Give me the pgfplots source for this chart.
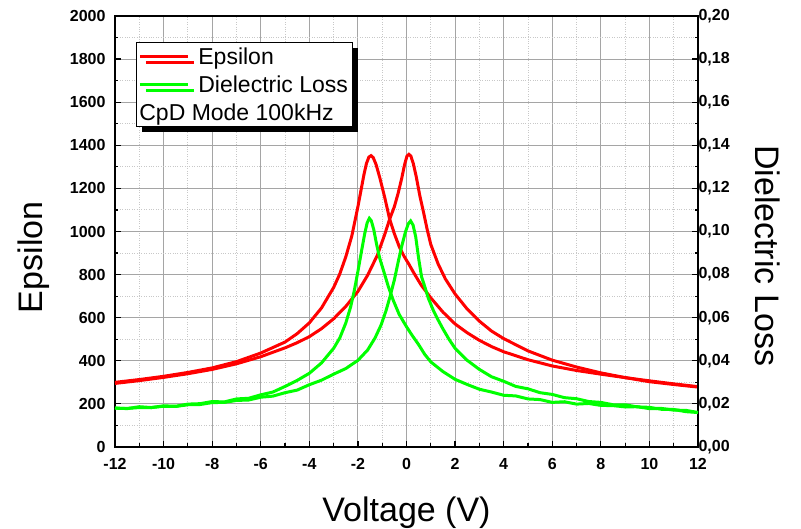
\documentclass[border=0pt]{standalone}
\usepackage{fontspec}
\setmainfont{Liberation Sans}
\usepackage{pgfplots}
\pgfplotsset{compat=1.18}
\usetikzlibrary{shadows}
\definecolor{gridmaj}{RGB}{165,165,165}
\definecolor{gridmin}{RGB}{200,200,200}
\definecolor{cred}{RGB}{255,0,0}
\definecolor{cgreen}{RGB}{0,255,0}

\begin{document}
\begin{tikzpicture}
\path[use as bounding box] (-115pt,-82pt) rectangle (686pt,447pt);
\begin{axis}[
 at={(0pt,0pt)}, anchor=south west,
 scale only axis, width=583pt, height=431pt,
 xmin=-12, xmax=12, ymin=0, ymax=2000,
 xtick={-12,-10,...,12}, minor xtick={-11,-9,...,11},
 ytick={0,200,...,2000}, minor ytick={100,300,...,1900},
 xtick pos=left, ytick pos=left,
 tick align=inside,
 major tick length=6pt, minor tick length=3.5pt,
 every tick/.style={black, line width=1.2pt},
 grid=both,
 major grid style={gridmaj, line width=0.9pt},
 minor grid style={gridmin, dotted, line width=0.9pt},
 axis line style={black, line width=1.5pt},
 ticklabel style={font=\bfseries\fontsize{16}{18}\selectfont},
 /pgf/number format/assume math mode=true,
 /pgf/number format/set thousands separator={},
 xticklabel style={yshift=-7.5pt, text height=11.5pt, text depth=0pt},
 yticklabel style={xshift=-6pt},
 xlabel={Voltage (V)}, ylabel={Epsilon},
 label style={font=\fontsize{34}{40}\selectfont},
 xlabel style={at={(axis description cs:0.5,-0.152)}, anchor=center},
 ylabel style={at={(axis description cs:-0.140,0.44)}, anchor=center},
]
% Epsilon, branch with peak near -1.46 V
\addplot[cred, line width=3pt] coordinates {
(-12,300) (-11,313) (-10,328) (-9,346) (-8,367) (-7,396) (-6,436) (-5,487)
(-4.5,526) (-4,576) (-3.5,645) (-3,740) (-2.75,802) (-2.5,882) (-2.25,980)
(-2,1115) (-1.85,1205) (-1.75,1265) (-1.65,1315) (-1.55,1345) (-1.46,1352)
(-1.37,1343) (-1.25,1310) (-1.1,1250) (-0.9,1160) (-0.7,1060) (-0.5,990)
(-0.3,930) (-0.1,885) (0.1,848) (0.3,808) (0.6,752) (1,692) (1.5,626)
(2,571) (2.5,530) (3,495) (3.5,466) (4,442) (5,405) (6,376) (7,355)
(8,338) (9,322) (10,307) (11,293) (12,280)
};
% Epsilon, branch with peak near 0.1 V
\addplot[cred, line width=3pt] coordinates {
(-12,295) (-11,308) (-10,323) (-9,340) (-8,360) (-7,386) (-6,419) (-5,460)
(-4.5,484) (-4,512) (-3.5,549) (-3,595) (-2.5,652) (-2,722) (-1.6,797)
(-1.2,890) (-0.9,985) (-0.7,1055) (-0.5,1115) (-0.35,1175) (-0.2,1245)
(-0.08,1310) (0.02,1350) (0.1,1358) (0.18,1350) (0.28,1315) (0.4,1255)
(0.55,1165) (0.7,1090) (0.85,1010) (1,940) (1.3,850) (1.6,780) (2,710)
(2.5,640) (3,584) (3.5,538) (4,503) (5,446) (6,403) (7,371) (8,344)
(9,322) (10,303) (11,290) (12,278)
};
\end{axis}
\begin{axis}[
 at={(0pt,0pt)}, anchor=south west,
 scale only axis, width=583pt, height=431pt,
 xmin=-12, xmax=12, ymin=0, ymax=0.2,
 axis x line=none, axis y line*=right,
 ytick={0,0.02,0.04,0.06,0.08,0.1,0.12,0.14,0.16,0.18,0.2},
 minor ytick={0.01,0.03,0.05,0.07,0.09,0.11,0.13,0.15,0.17,0.19},
 scaled y ticks=false,
 tick align=inside,
 major tick length=6pt, minor tick length=3.5pt,
 every tick/.style={black, line width=1.2pt},
 axis line style={black, line width=1.5pt},
 ticklabel style={font=\bfseries\fontsize{16}{18}\selectfont},
 yticklabel style={xshift=-3pt, /pgf/number format/.cd, fixed, fixed zerofill, precision=2, use comma, assume math mode=true},
 ylabel={Dielectric Loss},
 label style={font=\fontsize{34}{40}\selectfont},
 ylabel style={at={(axis description cs:1.120,0.444)}, anchor=center, rotate=180},
 legend image code/.code={\draw[#1] (0pt,0pt) -- (48pt,0pt);},
 legend cell align=left,
 legend style={at={(axis description cs:0.036,0.9397)}, anchor=north west,
   font=\fontsize{23}{26}\selectfont, draw=black, line width=0.8pt, fill=white,
   inner xsep=2pt, inner ysep=0pt, column sep=7pt,
   nodes={inner sep=2pt, text height=20pt, text depth=4pt},
   drop shadow={shadow xshift=6pt, shadow yshift=-6pt, fill=black, opacity=1}},
]
\addlegendimage{cred, line width=3pt}
\addlegendentry{Epsilon}
% Dielectric loss, branch with peak near -1.53 V
\addplot[cgreen, line width=3pt] coordinates {
(-12,0.0181) (-11.5,0.0178) (-11,0.0187) (-10.5,0.0183) (-10,0.0191)
(-9.5,0.0189) (-9,0.0199) (-8.5,0.0201) (-8,0.0211) (-7.5,0.0209)
(-7,0.0223) (-6.5,0.0226) (-6,0.0242) (-5.5,0.0255) (-5,0.0281)
(-4.5,0.0309) (-4,0.0342) (-3.5,0.0390) (-3,0.0458) (-2.75,0.0505)
(-2.5,0.0575) (-2.3,0.0650) (-2.15,0.0725) (-2,0.0815) (-1.85,0.0910)
(-1.72,0.0990) (-1.62,0.1040) (-1.53,0.1061) (-1.45,0.1050) (-1.35,0.1010)
(-1.23,0.0940) (-1.1,0.0875) (-0.95,0.0820) (-0.75,0.0745) (-0.55,0.0682)
(-0.3,0.0615) (0,0.0558) (0.25,0.0515) (0.5,0.0475) (0.75,0.0430)
(1,0.0395) (1.5,0.0350) (2,0.0314) (2.5,0.0290) (3,0.0268) (3.5,0.0255)
(4,0.0240) (4.5,0.0237) (5,0.0223) (5.5,0.0220) (6,0.0207) (6.5,0.0210)
(7,0.0199) (7.5,0.0202) (8,0.0193) (8.5,0.0192) (9,0.0186) (9.5,0.0187)
(10,0.0178) (10.5,0.0179) (11,0.0171) (11.5,0.0170) (12,0.0160)
};
\addlegendentry{Dielectric Loss}
% Dielectric loss, branch with peak near 0.17 V
\addplot[cgreen, line width=3pt, forget plot] coordinates {
(-12,0.0180) (-11.5,0.0179) (-11,0.0183) (-10.5,0.0183) (-10,0.0189)
(-9.5,0.0188) (-9,0.0196) (-8.5,0.0197) (-8,0.0206) (-7.5,0.0207)
(-7,0.0216) (-6.5,0.0218) (-6,0.0231) (-5.5,0.0236) (-5,0.0252)
(-4.5,0.0264) (-4,0.0289) (-3.5,0.0310) (-3,0.0338) (-2.5,0.0364)
(-2,0.0402) (-1.6,0.0450) (-1.3,0.0505) (-1.05,0.0565) (-0.85,0.0630)
(-0.68,0.0697) (-0.5,0.0775) (-0.35,0.0855) (-0.2,0.0930) (-0.05,0.0995)
(0.07,0.1035) (0.17,0.1049) (0.27,0.1030) (0.38,0.0975) (0.5,0.0875)
(0.62,0.0790) (0.75,0.0745) (0.9,0.0690) (1.1,0.0635) (1.3,0.0590)
(1.5,0.0548) (1.75,0.0500) (2,0.0458) (2.5,0.0402) (3,0.0360) (3.5,0.0326)
(4,0.0305) (4.5,0.0281) (5,0.0270) (5.5,0.0252) (6,0.0244) (6.5,0.0229)
(7,0.0224) (7.5,0.0211) (8,0.0207) (8.5,0.0196) (9,0.0196) (9.5,0.0186)
(10,0.0184) (10.5,0.0175) (11,0.0174) (11.5,0.0164) (12,0.0160)
};
\addlegendimage{empty legend}
\addlegendentry{\hspace{-59pt}CpD Mode 100kHz}
\end{axis}
\end{tikzpicture}
\end{document}
